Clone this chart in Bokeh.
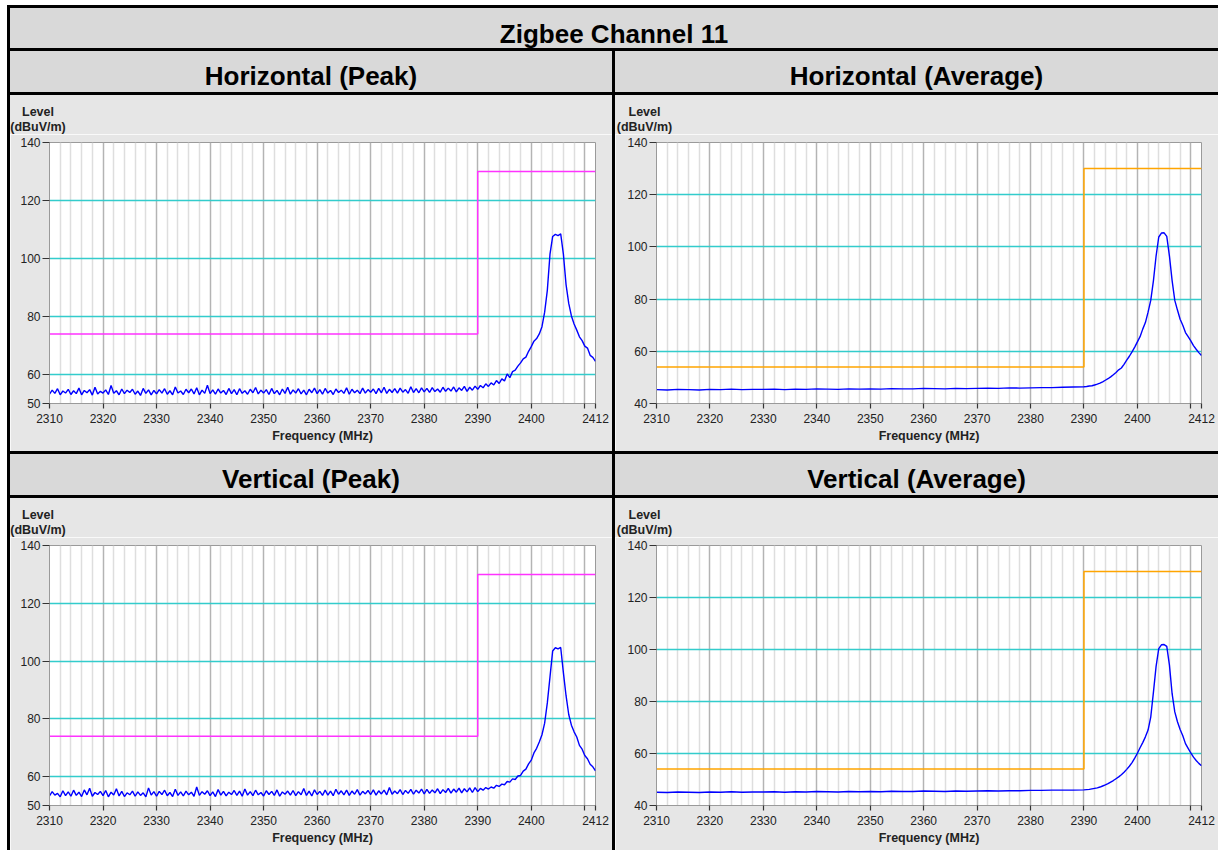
from bokeh.plotting import figure
from bokeh.layouts import column, row
from bokeh.models import Div, Range1d, FixedTicker
from bokeh.embed import file_html
from bokeh.resources import INLINE

# ---------------- data ----------------
TITLE = "Zigbee Channel 11"
PANEL_TITLES = ["Horizontal (Peak)", "Horizontal (Average)", "Vertical (Peak)", "Vertical (Average)"]
Y_TITLE_LINES = ["Level", "(dBuV/m)"]
X_TITLE = "Frequency (MHz)"

X_TICKS = [2310, 2320, 2330, 2340, 2350, 2360, 2370, 2380, 2390, 2400, 2410, 2412]
X_MINOR = [t for t in range(2312, 2412, 2) if t % 10 != 0]
Y_TICKS_PEAK = [50, 60, 80, 100, 120, 140]
Y_TICKS_AVG = [40, 60, 80, 100, 120, 140]
Y_GRID = [60, 80, 100, 120]

# limit lines
limit_freq = [2310, 2390, 2390, 2412]
peak_limit = [74, 74, 130, 130]
avg_limit = [54, 54, 130, 130]

# sweep grids
peak_freq = [2310 + 0.5 * i for i in range(205)]
avg_freq = list(range(2310, 2390, 2)) + [2390 + 0.5 * i for i in range(45)]

h_peak = [
    53.2, 54.6, 53.5, 55.1, 53.0, 54.3, 53.6, 54.9, 53.1, 54.4,
    53.4, 55.3, 53.0, 54.5, 53.7, 54.8, 52.9, 55.6, 53.3, 54.2,
    53.6, 54.7, 53.1, 56.2, 53.5, 54.4, 53.0, 55.0, 53.4, 54.6,
    53.8, 54.9, 53.2, 54.3, 52.8, 55.2, 53.5, 54.7, 53.0, 54.5,
    53.3, 54.8, 53.6, 55.1, 53.2, 54.4, 53.0, 55.7, 53.6, 54.3,
    53.1, 54.9, 53.7, 55.0, 53.3, 55.4, 53.0, 54.6, 53.5, 56.3,
    53.4, 54.7, 53.2, 55.0, 53.6, 54.5, 53.1, 55.2, 53.4, 54.8,
    53.0, 55.1, 53.5, 54.4, 53.2, 54.9, 53.7, 55.5, 53.3, 54.6,
    53.6, 54.8, 53.1, 55.2, 53.4, 54.5, 53.0, 55.0, 53.5, 55.6,
    53.2, 54.7, 53.6, 55.1, 53.3, 54.6, 53.0, 54.9, 53.7, 55.3,
    53.4, 54.8, 53.2, 55.2, 53.6, 54.5, 53.1, 55.0, 53.8, 54.6,
    53.5, 55.4, 53.2, 54.9, 53.7, 54.6, 53.4, 55.3, 53.6, 54.8,
    53.9, 55.0, 53.4, 55.2, 53.7, 55.6, 53.5, 54.9, 53.8, 55.1,
    53.6, 55.3, 53.9, 54.8, 53.5, 55.8, 53.8, 55.1, 53.7, 55.4,
    54.0, 55.2, 53.8, 55.5, 54.1, 55.0, 53.9, 55.6, 54.2, 55.3,
    54.3, 55.7, 54.0, 55.4, 54.5, 55.9, 54.2, 55.6, 54.6, 56.0,
    54.9, 56.2, 55.4, 56.8, 55.9, 57.1, 56.4, 57.9, 56.9,
    58.5, 57.8, 60.2, 58.9, 61.0, 61.5, 62.9, 64.0, 65.4,
    66.0, 68.0, 69.6, 71.5, 72.4, 74.0, 76.5, 81.5, 89.0,
    101.5, 107.6, 108.3, 107.9, 108.5, 101.5, 91.0, 84.5, 80.2,
    77.4, 75.3, 73.0, 71.7, 69.8, 69.1, 66.6, 65.9, 64.5,
]

v_peak = [
    53.3, 54.8, 53.6, 54.2, 53.0, 55.1, 53.4, 54.7, 53.2, 55.3,
    53.5, 54.6, 53.1, 55.4, 53.7, 56.0, 53.2, 54.5, 53.8, 54.9,
    53.4, 55.2, 53.0, 54.6, 53.6, 55.8, 53.3, 54.9, 53.1, 54.4,
    53.7, 55.0, 53.2, 54.7, 53.5, 54.4, 53.0, 56.1, 53.6, 54.8,
    53.2, 54.9, 53.8, 55.3, 53.4, 54.5, 53.1, 55.6, 53.5, 54.7,
    53.3, 55.0, 53.7, 54.6, 53.2, 56.4, 53.5, 54.8, 53.9, 55.1,
    53.4, 54.7, 53.1, 55.5, 53.6, 54.9, 53.3, 54.6, 53.8, 55.2,
    53.5, 55.0, 53.2, 55.7, 53.6, 54.8, 53.4, 55.3, 53.7, 54.5,
    53.3, 55.1, 53.8, 54.9, 53.5, 55.4, 53.2, 54.7, 53.9, 55.0,
    53.6, 55.2, 53.4, 54.8, 53.7, 55.9, 53.5, 55.0, 53.3, 55.4,
    53.8, 54.9, 53.5, 55.3, 53.6, 55.0, 53.4, 55.6, 53.9, 55.1,
    53.7, 55.3, 53.5, 55.0, 53.9, 55.5, 53.6, 54.9, 54.0, 55.2,
    53.8, 55.4, 53.6, 55.1, 54.0, 55.3, 53.7, 56.2, 53.9, 55.0,
    54.1, 55.5, 53.8, 55.2, 54.2, 55.6, 53.9, 55.3, 54.3, 55.7,
    54.0, 55.6, 54.2, 55.4, 54.4, 55.8, 54.1, 55.5, 54.5, 55.9,
    54.3, 55.7, 54.6, 56.0, 54.4, 55.8, 54.7, 56.1, 54.5, 56.2,
    54.8, 55.9, 55.3, 56.2, 55.7, 56.4, 56.0, 57.0, 56.6,
    57.4, 57.2, 58.3, 58.1, 59.2, 59.0, 60.2, 60.4, 61.9,
    62.6, 64.4, 65.7, 68.2, 69.8, 72.0, 74.5, 78.5, 85.5,
    94.5, 103.5, 104.6, 104.2, 104.7, 96.0, 88.0, 81.5, 77.8,
    75.5, 73.7, 70.8, 69.5, 67.3, 66.2, 64.3, 63.4, 62.0,
]

h_avg = [
    45.3, 45.2, 45.4, 45.3, 45.2, 45.4, 45.3, 45.5, 45.3, 45.4,
    45.4, 45.5, 45.3, 45.5, 45.4, 45.6, 45.5, 45.4, 45.6, 45.5,
    45.6, 45.5, 45.7, 45.6, 45.6, 45.8, 45.7, 45.6, 45.8, 45.7,
    45.8, 45.9, 45.8, 46.0, 45.9, 46.0, 46.1, 46.1, 46.2, 46.3,
    46.4, 46.5, 46.7, 46.8, 47.1, 47.4, 47.8, 48.3, 48.9,
    49.5, 50.2, 51.0, 51.9, 52.9, 53.6, 55.0, 56.6, 58.1,
    59.8, 61.6, 63.6, 65.6, 68.5, 71.0, 75.0, 79.5, 87.0,
    96.5, 103.8, 105.3, 105.4, 104.0, 96.5, 87.1, 79.5, 75.8,
    72.3, 70.0, 67.2, 65.6, 64.0, 62.2, 60.8, 59.5, 58.4,
]

v_avg = [
    45.1, 45.0, 45.2, 45.1, 45.0, 45.2, 45.1, 45.3, 45.1, 45.2,
    45.2, 45.3, 45.1, 45.3, 45.2, 45.4, 45.3, 45.2, 45.4, 45.3,
    45.4, 45.3, 45.5, 45.4, 45.4, 45.6, 45.5, 45.4, 45.6, 45.5,
    45.6, 45.7, 45.6, 45.7, 45.7, 45.8, 45.8, 45.9, 45.9, 45.9,
    46.0, 46.1, 46.2, 46.4, 46.6, 46.8, 47.1, 47.5, 47.9,
    48.4, 49.0, 49.6, 50.3, 51.0, 51.8, 52.8, 53.9, 55.1,
    56.5, 58.2, 60.1, 62.2, 64.2, 66.4, 69.0, 74.0, 83.5,
    93.5, 100.3, 101.8, 101.9, 101.2, 94.0, 83.0, 76.0, 72.2,
    69.2, 66.8, 63.8, 62.0, 60.2, 58.6, 57.3, 56.2, 55.3,
]

# ---------------- styling ----------------
FONT = "Liberation Sans"
CSS_FONT = "'Liberation Sans', Arial, sans-serif"
PANEL_BG = "#e6e6e6"
HEAD_BG = "#d9d9d9"
TRACE = "#0000ff"
PEAK_LIM = "#ff33ff"
AVG_LIM = "#ffa500"

LEFT_W, RIGHT_W, SEP = 602, 603, 3
INNER_W = LEFT_W + SEP + RIGHT_W
YLAB_H = 39


def make_fig(freq, level, lim, lim_color, ymin, yticks, width, height, mb_left, mb_bottom):
    p = figure(width=width, height=height,
               x_range=Range1d(2310, 2412), y_range=Range1d(ymin, 140),
               output_backend="svg", toolbar_location=None,
               min_border_left=mb_left, min_border_right=17,
               min_border_top=8, min_border_bottom=mb_bottom,
               background_fill_color="white", border_fill_color=PANEL_BG,
               outline_line_color="#9a9a9a", outline_line_width=1)

    p.xaxis.ticker = FixedTicker(ticks=X_TICKS, minor_ticks=X_MINOR)
    p.xaxis.major_label_overrides = {2410: ""}
    p.yaxis.ticker = FixedTicker(ticks=yticks)
    p.ygrid.ticker = FixedTicker(ticks=Y_GRID)

    p.xgrid.grid_line_color = "#b4b4b4"
    p.xgrid.grid_line_width = 1.5
    p.xgrid.minor_grid_line_color = "#dedede"
    p.xgrid.minor_grid_line_width = 1.5
    p.ygrid.grid_line_color = "#33cccc"
    p.ygrid.grid_line_width = 1.5

    for ax in (p.xaxis[0], p.yaxis[0]):
        ax.axis_line_color = "#9a9a9a"
        ax.major_tick_line_color = "#333333"
        ax.major_tick_line_width = 1.2
        ax.major_tick_in = 0
        ax.minor_tick_in = 0
        ax.minor_tick_out = 0
        ax.major_label_text_font = FONT
        ax.major_label_text_font_size = "12px"
        ax.major_label_text_color = "#222222"

    p.xaxis.major_tick_out = 5
    p.xaxis.major_label_standoff = 5
    p.xaxis.axis_label = X_TITLE
    p.xaxis.axis_label_text_font = FONT
    p.xaxis.axis_label_text_font_size = "12.5px"
    p.xaxis.axis_label_text_font_style = "bold"
    p.xaxis.axis_label_text_color = "#222222"
    p.xaxis.axis_label_standoff = 3

    p.yaxis.major_tick_out = 7
    p.yaxis.major_label_standoff = 2

    p.line(limit_freq, lim, line_color=lim_color, line_width=1.5)
    p.line(freq, level, line_color=TRACE, line_width=1.4)
    return p


def ylab_div(width, box_w):
    html = (f'<div style="width:{box_w}px;text-align:center;padding-top:10px;line-height:15px;'
            f'white-space:nowrap">{Y_TITLE_LINES[0]}<br>{Y_TITLE_LINES[1]}</div>')
    return Div(text=html, width=width, height=YLAB_H, margin=0,
               styles={"background-color": PANEL_BG, "font-family": CSS_FONT,
                       "font-weight": "bold", "font-size": "12.5px", "color": "#222222",
                       "overflow": "hidden"})


def panel(freq, level, lim, lim_color, ymin, yticks, width, height, mb_left, mb_bottom, box_w):
    fig = make_fig(freq, level, lim, lim_color, ymin, yticks, width, height - YLAB_H, mb_left, mb_bottom)
    return column(ylab_div(width, box_w), fig)


def cell(text, w, h, pad):
    return Div(text=f'<div style="padding-top:{pad}px;white-space:nowrap">{text}</div>',
               width=w, height=h, margin=0,
               styles={"background-color": HEAD_BG, "text-align": "center",
                       "font-family": CSS_FONT, "font-weight": "bold", "font-size": "26px",
                       "color": "#000000", "line-height": "30px", "overflow": "hidden"})


def sep(w, h):
    return Div(text="", width=w, height=h, margin=0, styles={"background-color": "#000000"})


TOP_H, BOT_H = 356, 352
f1 = panel(peak_freq, h_peak, peak_limit, PEAK_LIM, 50, Y_TICKS_PEAK, LEFT_W, TOP_H, 39, 48, 56)
f2 = panel(avg_freq, h_avg, avg_limit, AVG_LIM, 40, Y_TICKS_AVG, RIGHT_W, TOP_H, 41, 48, 59)
f3 = panel(peak_freq, v_peak, peak_limit, PEAK_LIM, 50, Y_TICKS_PEAK, LEFT_W, BOT_H, 39, 45, 56)
f4 = panel(avg_freq, v_avg, avg_limit, AVG_LIM, 40, Y_TICKS_AVG, RIGHT_W, BOT_H, 41, 45, 59)

inner = column(
    cell(TITLE, INNER_W, 40, 11),
    sep(INNER_W, SEP),
    row(cell(PANEL_TITLES[0], LEFT_W, 41, 10), sep(SEP, 41), cell(PANEL_TITLES[1], RIGHT_W, 41, 10)),
    sep(INNER_W, SEP),
    row(f1, sep(SEP, TOP_H), f2),
    sep(INNER_W, SEP),
    row(cell(PANEL_TITLES[2], LEFT_W, 41, 10), sep(SEP, 41), cell(PANEL_TITLES[3], RIGHT_W, 41, 10)),
    sep(INNER_W, SEP),
    row(f3, sep(SEP, BOT_H), f4),
)
total_h = 40 + 41 + 41 + TOP_H + BOT_H + 4 * SEP
p = column(sep(INNER_W + SEP, SEP), row(sep(SEP, total_h), inner), margin=(5, 0, 0, 7))

open("out.html", "w").write(file_html(p, INLINE))
